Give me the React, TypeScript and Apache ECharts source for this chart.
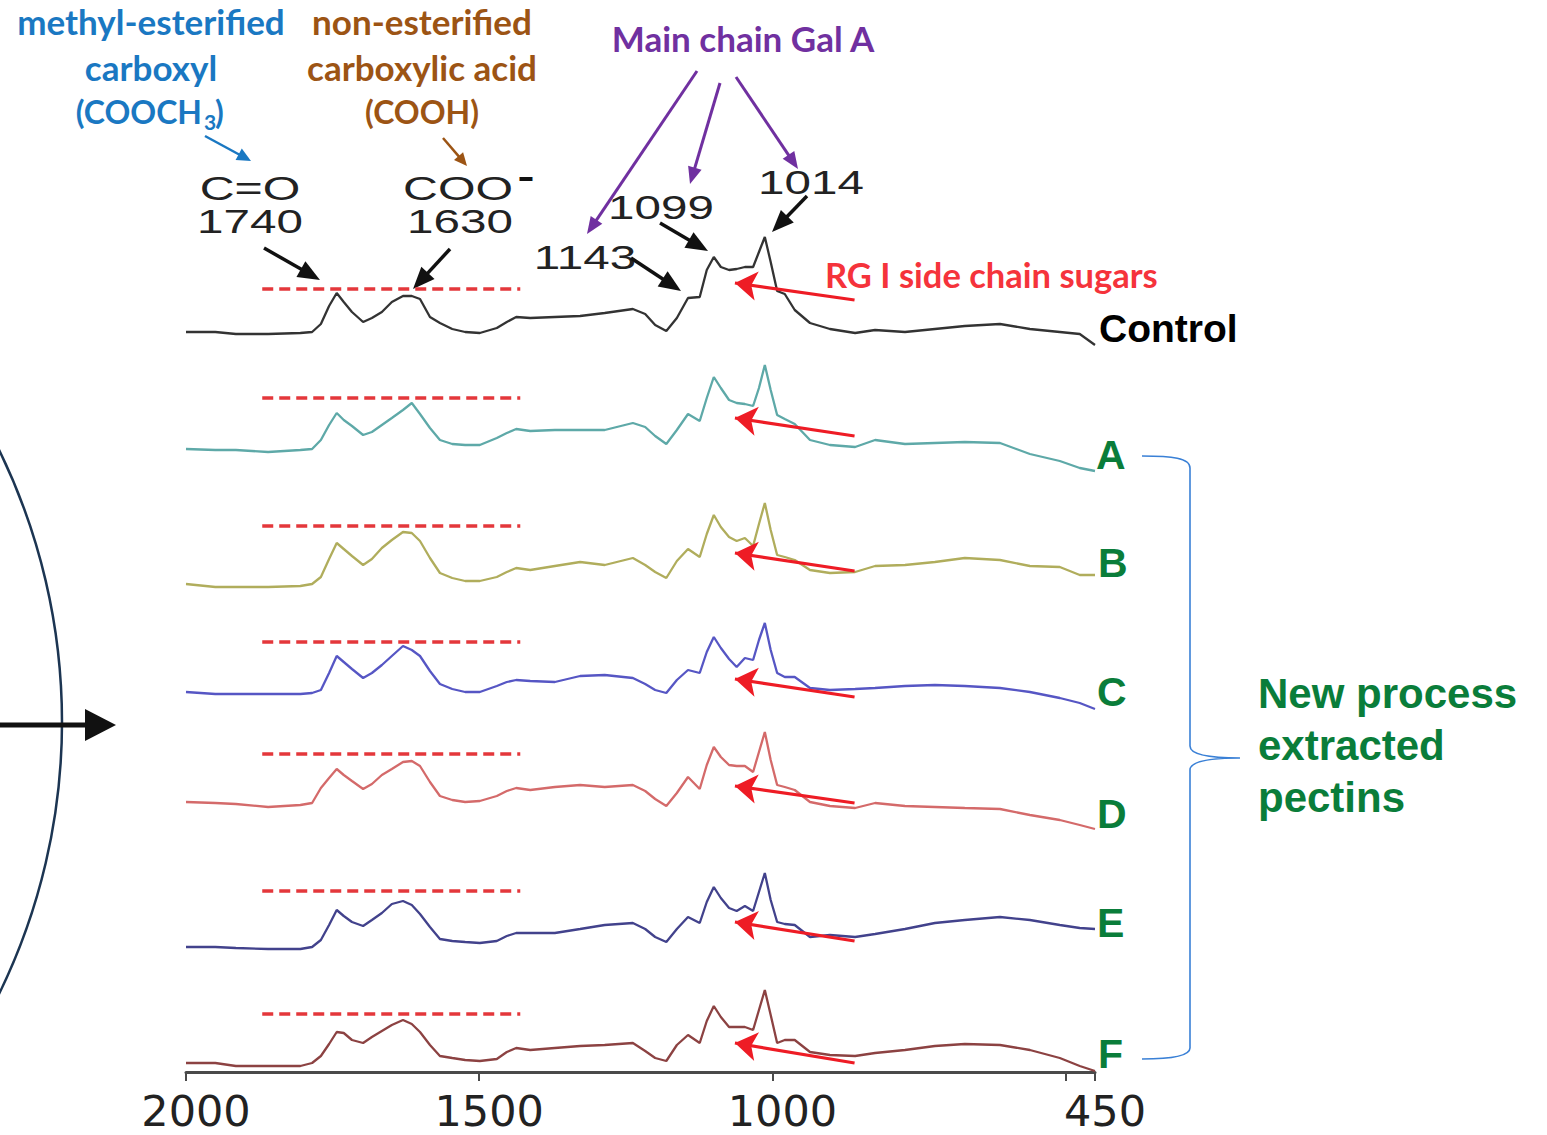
import React, { useEffect, useRef } from "react";
import * as echarts from "echarts";

// Wavenumber grid (cm-1)
const wavenumbers = [2000,1950,1915,1860,1805,1785,1770,1756,1743,1731,1717,1698,1683,1666,1649,1630,1615,1601,1584,1567,1546,1524,1499,1470,1453,1437,1413,1371,1328,1286,1238,1217,1200,1181,1163,1144,1124,1112,1100,1088,1074,1061,1047,1033,1023,1013,1003,992,979,962,936,902,859,825,774,723,672,612,561,510,476,450];

const seriesNames = ["Control", "A", "B", "C", "D", "E", "F"];

// Relative absorbance of each spectrum above its own baseline (arbitrary units)
const control = [0,0,-2,-2,-1,0,8,26,39,30,20,10,14,20,30,36,36,33,15,9,3,0,-1,4,10,15,14,15,16,19,23,18,7,1,14,34,35,62,75,65,62,63,65,65,80,95,70,41,38,22,9,3,-1,2,0,3,6,8,3,0,-2,-13];
const sampleA = [0,-1,-1,-3,-1,0,9,24,36,29,23,14,17,24,31,39,46,35,21,9,5,4,4,11,16,20,18,19,19,19,26,22,13,5,19,35,28,51,72,61,49,46,45,43,61,84,59,34,30,25,9,4,2,9,5,6,7,6,-5,-12,-19,-22];
const sampleB = [0,-3,-3,-3,-2,0,7,25,41,35,28,19,25,36,44,52,51,43,26,11,6,3,3,7,12,16,14,18,22,19,26,19,12,6,23,35,27,50,69,57,47,43,46,38,60,81,54,29,27,24,14,11,12,18,19,22,26,24,18,17,9,9];
const sampleC = [0,-2,-2,-2,-2,-1,2,19,36,30,23,14,19,27,36,46,42,36,21,8,3,0,0,6,10,12,11,10,16,17,14,8,2,-1,12,22,19,40,55,44,33,25,34,32,52,69,42,19,15,15,4,2,3,4,6,7,6,4,0,-6,-11,-17];
const sampleD = [0,-1,-2,-5,-3,-1,14,24,33,27,21,13,18,27,33,40,41,36,20,6,2,0,1,6,11,14,12,15,17,15,17,11,3,-4,9,25,13,37,55,45,37,36,36,30,50,70,42,17,15,12,0,-4,-6,-1,-4,-5,-6,-7,-13,-18,-23,-27];
const sampleE = [0,0,-1,-2,-2,0,7,22,37,31,25,21,27,34,43,46,42,33,20,8,6,5,4,6,11,14,14,14,18,22,24,18,10,5,18,30,24,45,60,49,39,36,41,36,55,74,47,25,23,22,10,12,10,13,18,24,27,30,27,22,19,18];
const sampleF = [0,0,-3,-3,-3,0,7,19,31,30,23,20,26,32,38,43,39,31,18,7,5,3,2,4,11,15,13,15,17,18,20,12,5,2,18,28,20,42,57,46,36,36,36,33,53,73,48,20,23,23,11,8,7,10,13,17,19,18,13,5,-3,-8];
const spectra = [control, sampleA, sampleB, sampleC, sampleD, sampleE, sampleF];

// Vertical stacking offsets of each spectrum
const offsets = [740, 623, 488, 380, 270, 125, 9];
// Height of the red dashed reference level above each baseline
const esterLevel = [43, 51, 58, 50, 48, 56, 49];
const esterRange = [1870, 1430];
// RG I side-chain arrow (tail / tip) heights above each baseline
const rgTail = [32, 13, 13, -5, -1, 6, 0];
const rgTip = [49, 31, 31, 13, 16, 25, 20];
const rgRange = [860, 1064];

const tickValues = [2000, 1500, 1000, 500, 450];
const tickLabels = [2000, 1500, 1000, 450];

const colors = ["#333333", "#5ea9a8", "#b0ad5c", "#5656c4", "#d46a6a", "#42428c", "#8c4242"];
const labelOffsetY = [-17, -16, -12, -17, -15, -6, -17];
const labelOffsetX = [4, 1, 3, 2, 2, 2, 3];

const braceD =
  "M1142,456 C1172,456 1190,458 1190,468 L1190,746 C1190,754 1205,758 1240,758 " +
  "C1205,758 1190,762 1190,770 L1190,1048 C1190,1056 1172,1059 1142,1059";
echarts.graphic.registerShape("brace", echarts.graphic.extendPath(braceD, {}));

function arrow(x1: number, y1: number, x2: number, y2: number, color: string, w: number, hl: number, hw: number) {
  const dx = x2 - x1, dy = y2 - y1;
  const len = Math.hypot(dx, dy);
  const ux = dx / len, uy = dy / len;
  const bx = x2 - ux * hl, by = y2 - uy * hl;
  const px = (-uy * hw) / 2, py = (ux * hw) / 2;
  return [
    { type: "line", silent: true, shape: { x1, y1, x2: bx + ux * 2, y2: by + uy * 2 }, style: { stroke: color, lineWidth: w } },
    { type: "polygon", silent: true, shape: { points: [[x2, y2], [bx + px, by + py], [bx - px, by - py]] }, style: { fill: color } },
  ];
}

function txt(text: string, x: number, y: number, font: string, fill: string, align = "center", scaleX = 1) {
  return {
    type: "text",
    x,
    y,
    scaleX,
    silent: true,
    style: { text, font, fill, textAlign: align, textVerticalAlign: "middle", align, verticalAlign: "middle" },
  };
}

const BLUE = "#1a78c2";
const BROWN = "#9c5414";
const PURPLE = "#7030a0";
const GREEN = "#0a7d3a";
const CAL = "bold 35px Lato";
const CALCAPS = "bold 32px Lato";
const NUM = '34px "Liberation Sans"';

export default function App() {
  const ref = useRef<HTMLDivElement>(null);
  useEffect(() => {
    if (!ref.current) return;
    const chart = echarts.init(ref.current, undefined, { renderer: "svg" });

    const series: any[] = [];
    spectra.forEach((vals, i) => {
      series.push({
        name: seriesNames[i],
        type: "line",
        showSymbol: false,
        silent: true,
        data: wavenumbers.map((w, k) => [w, offsets[i] + vals[k]]),
        lineStyle: { color: colors[i], width: 2.3 },
        itemStyle: { color: colors[i] },
        endLabel: {
          show: true,
          formatter: "{a}",
          align: "left",
          verticalAlign: "middle",
          distance: 0,
          offset: [labelOffsetX[i], labelOffsetY[i]],
          fontFamily: "Liberation Sans",
          fontWeight: "bold",
          fontSize: i === 0 ? 39 : 41,
          color: i === 0 ? "#000" : GREEN,
        },
        markLine: {
          silent: true,
          symbol: ["none", "arrow"],
          symbolSize: 22,
          label: { show: false },
          lineStyle: { color: "#ee1c25", width: 3.2, type: "solid" },
          data: [[{ coord: [rgRange[0], offsets[i] + rgTail[i]] }, { coord: [rgRange[1], offsets[i] + rgTip[i]] }]],
        },
      });
      series.push({
        name: seriesNames[i] + " ref",
        type: "line",
        showSymbol: false,
        silent: true,
        data: esterRange.map((w) => [w, offsets[i] + esterLevel[i]]),
        lineStyle: { color: "#e4373b", width: 3.5, type: [11, 6] },
      });
    });

    const graphic: any[] = [
      // left circle and arrow
      { type: "circle", silent: true, shape: { cx: -557, cy: 722, r: 619 }, style: { fill: "none", stroke: "#1c3552", lineWidth: 2.5 } },
      ...arrow(0, 725, 116, 725, "#111", 5, 31, 32),
      // top annotations
      txt("methyl-esterified", 151, 21, CAL, BLUE),
      txt("carboxyl", 151, 67, CAL, BLUE),
      txt("(COOCH", 202, 111, CALCAPS, BLUE, "right"),
      txt("3", 204, 121, "bold 21px Lato", BLUE, "left"),
      txt(")", 215, 111, CALCAPS, BLUE, "left"),
      ...arrow(205, 136, 251, 161, BLUE, 2.5, 14, 13),
      txt("non-esterified", 422, 21, CAL, BROWN),
      txt("carboxylic acid", 422, 67, CAL, BROWN),
      txt("(COOH)", 422, 111, CALCAPS, BROWN),
      ...arrow(443, 138, 467, 166, BROWN, 2.5, 13, 12),
      txt("Main chain Gal A", 743, 38, CAL, PURPLE),
      ...arrow(697, 71, 587, 234, PURPLE, 3, 17, 14),
      ...arrow(720, 83, 690, 184, PURPLE, 3, 17, 14),
      ...arrow(736, 77, 798, 169, PURPLE, 3, 17, 14),
      txt("RG I side chain sugars", 825, 274, "bold 34.5px Lato", "#f5333b", "left"),
      // peak labels
      txt("C=O", 250, 188, NUM, "#222", "center", 1.42),
      txt("1740", 250, 221, NUM, "#222", "center", 1.4),
      txt("COO", 458, 188, NUM, "#222", "center", 1.42),
      txt("-", 526, 176, 'bold 34px "Liberation Sans"', "#111", "center", 1.5),
      txt("1630", 460, 221, NUM, "#222", "center", 1.4),
      txt("1143", 585, 257, NUM, "#222", "center", 1.4),
      txt("1099", 661, 207, NUM, "#222", "center", 1.4),
      txt("1014", 811, 182, NUM, "#222", "center", 1.4),
      ...arrow(264, 248, 320, 280, "#111", 3.5, 22, 18),
      ...arrow(450, 249, 413, 289, "#111", 3.5, 22, 18),
      ...arrow(631, 258, 681, 291, "#111", 3.5, 22, 18),
      ...arrow(660, 223, 708, 251, "#111", 3.5, 22, 18),
      ...arrow(807, 196, 772, 232, "#111", 3.5, 22, 18),
      // brace and group label
      { type: "brace", silent: true, x: 0, y: 0, style: { fill: "none", stroke: "#3a80d6", lineWidth: 1.6 } },
      txt("New process", 1258, 693, 'bold 42px "Liberation Sans"', GREEN, "left"),
      txt("extracted", 1258, 745, 'bold 42px "Liberation Sans"', GREEN, "left"),
      txt("pectins", 1258, 797, 'bold 42px "Liberation Sans"', GREEN, "left"),
    ];

    chart.setOption({
      animation: false,
      backgroundColor: "#ffffff",
      grid: { left: 186, right: 452, top: 172, bottom: 63, containLabel: false },
      xAxis: {
        type: "value",
        min: 450,
        max: 2000,
        inverse: true,
        splitLine: { show: false },
        axisLine: { show: true, lineStyle: { color: "#4a4a4a", width: 3 } },
        axisTick: { show: true, customValues: tickValues, length: 9, lineStyle: { color: "#4a4a4a", width: 2 } },
        axisLabel: {
          show: true,
          customValues: tickLabels,
          formatter: (v: number) => String(v),
          fontFamily: "DejaVu Sans",
          fontSize: 43,
          lineHeight: 43,
          color: "#222",
          margin: 17,
          padding: [0, 0, 0, 20],
        },
      },
      yAxis: { type: "value", min: 0, max: 900, show: false },
      series,
      graphic,
    });
    return () => chart.dispose();
  }, []);
  return <div ref={ref} style={{ position: "absolute", left: 0, top: 0, width: 1547, height: 1135 }} />;
}
